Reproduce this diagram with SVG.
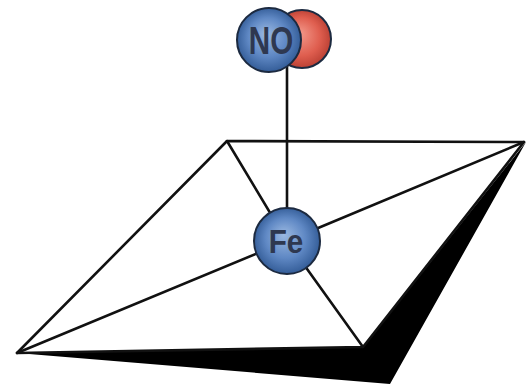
<svg xmlns="http://www.w3.org/2000/svg" width="529" height="388" viewBox="0 0 529 388">
  <defs>
    <radialGradient id="blueBall" cx="0.5" cy="0.5" r="0.55" fx="0.45" fy="0.4">
      <stop offset="0" stop-color="#9bb9e2"/>
      <stop offset="0.55" stop-color="#5f88c4"/>
      <stop offset="1" stop-color="#2b548f"/>
    </radialGradient>
    <radialGradient id="redBall" cx="0.5" cy="0.5" r="0.55" fx="0.45" fy="0.4">
      <stop offset="0" stop-color="#f39a8c"/>
      <stop offset="0.6" stop-color="#df5e4f"/>
      <stop offset="1" stop-color="#b33a2e"/>
    </radialGradient>
    <style>
      .edge { stroke: #111; stroke-width: 2.6; fill: none; stroke-linecap: round; stroke-linejoin: round; }
      .atom { stroke: #1c2a40; stroke-width: 2; }
      .label { font-family: "Liberation Sans", Arial, sans-serif; font-weight: bold; fill: #2e3850; }
    </style>
  </defs>

  <rect width="529" height="388" fill="#ffffff"/>

  <!-- porphyrin plane with its shadow -->
  <g id="plane">
    <polygon points="17,353 363,347 526,142 390,384" fill="#000"/>
    <polygon points="227,141 524,142 363,347 17,353" fill="#fff" class="edge"/>
  </g>

  <!-- bonds -->
  <g id="connectors" class="edge">
    <line x1="287" y1="60" x2="287" y2="241"/>
    <line x1="227" y1="141" x2="287" y2="241"/>
    <line x1="287" y1="241" x2="363" y2="347"/>
    <line x1="17" y1="353" x2="287" y2="241"/>
    <line x1="287" y1="241" x2="524" y2="142"/>
  </g>

  <g id="fe">
    <circle cx="287" cy="241" r="33" fill="url(#blueBall)" class="atom"/>
    <text x="0" y="0" class="label" font-size="33" text-anchor="middle" transform="translate(286,253) scale(0.9,1)">Fe</text>
  </g>

  <g id="no">
    <circle cx="302" cy="39" r="29" fill="url(#redBall)" class="atom"/>
    <circle cx="269" cy="40" r="32" fill="url(#blueBall)" class="atom"/>
    <text x="0" y="0" class="label" font-size="38" text-anchor="middle" transform="translate(271,54) scale(0.78,1)">NO</text>
  </g>
</svg>
